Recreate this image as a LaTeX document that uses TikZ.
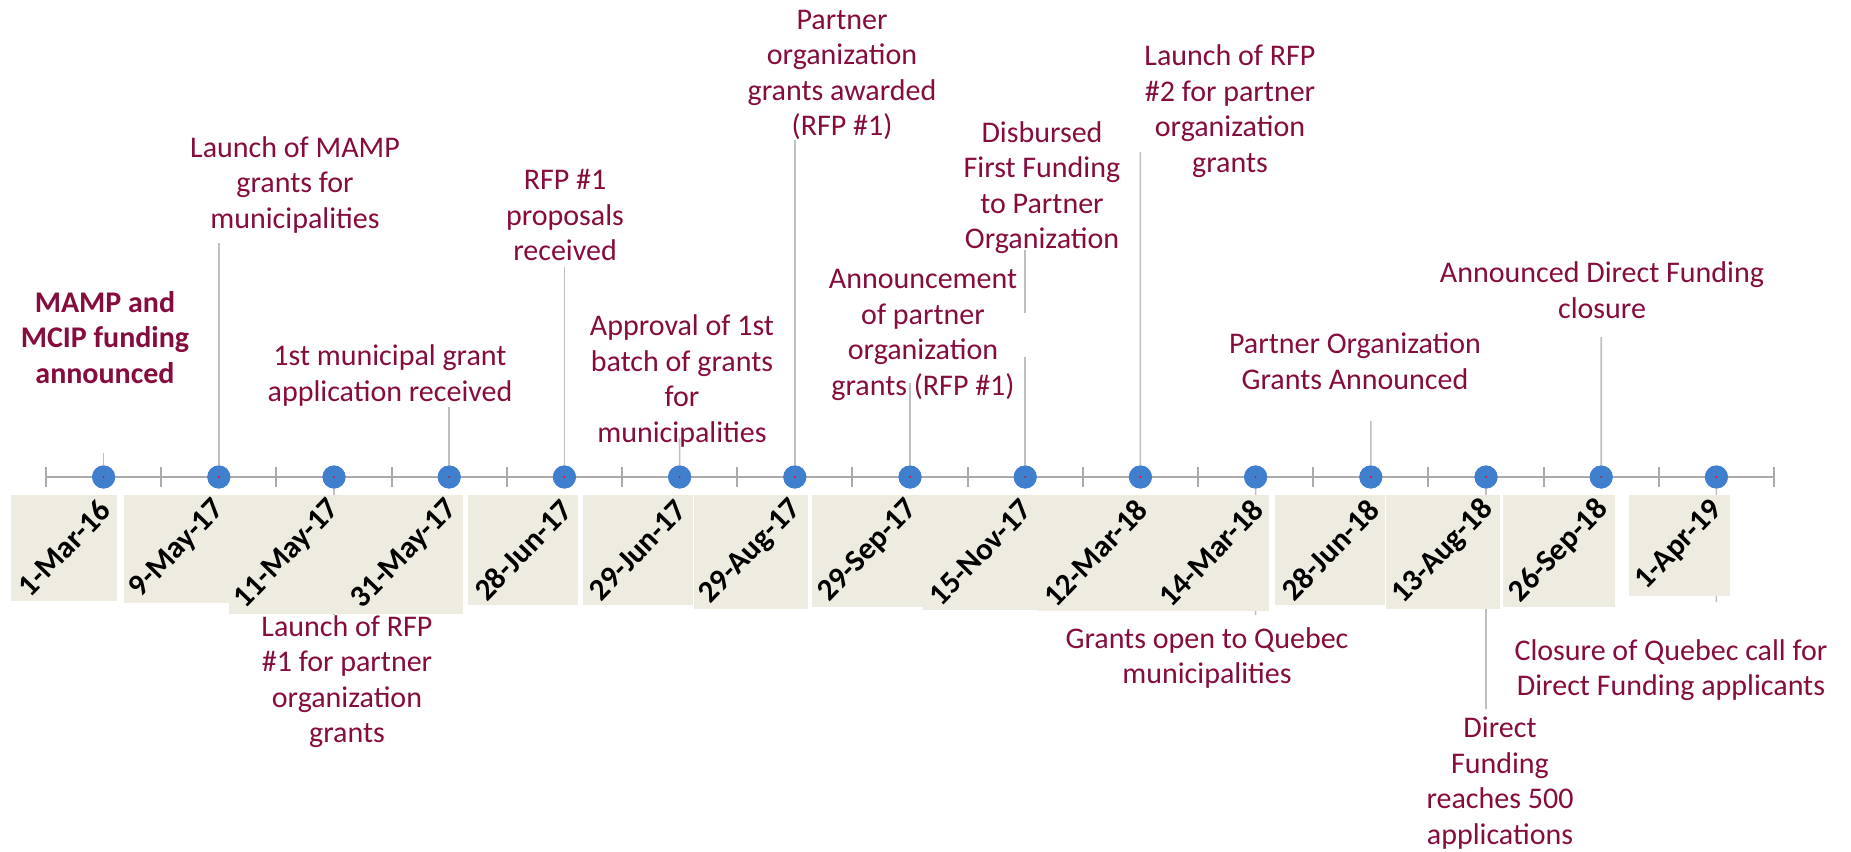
\documentclass[tikz,border=0pt]{standalone}
\usepackage{fontspec}
\setmainfont{Carlito}
\definecolor{evt}{RGB}{134,12,62}
\definecolor{lead}{RGB}{191,191,191}
\definecolor{axisc}{RGB}{170,170,170}
\definecolor{dotc}{RGB}{63,127,206}
\definecolor{boxc}{RGB}{238,236,225}
\tikzset{
  evlabel/.style={text=evt, align=center, inner sep=0pt, font=\fontsize{15}{17.75}\selectfont},
  evbold/.style={evlabel, font=\bfseries\fontsize{15}{17.75}\selectfont},
  datelabel/.style={rotate=46, inner sep=0pt, font=\bfseries\fontsize{15.5}{17}\selectfont},
  leader/.style={draw=lead, line width=0.8pt},
  axisline/.style={draw=axisc, line width=1pt},
  dotmark/.style={circle, fill=dotc, minimum size=11.5pt, inner sep=0pt},
  datebox/.style={fill=boxc},
}
\begin{document}
\begin{tikzpicture}[x=0.5pt,y=-0.5pt]
\useasboundingbox (0,0) rectangle (1851,851);
% axis
\coordinate (a0) at (46,477);
\coordinate (a1) at (1774,477);
\draw[axisline] (a0) -- (a1);
\foreach \k in {0,...,15} {
  \draw[axisline] (46+115.2*\k,467) -- (46+115.2*\k,487);
}
% dots (as named nodes)
\foreach \k in {0,...,14} {
  \node[dotmark] (d\k) at (103.6+115.2*\k,477) {};
}
% leader end points
\coordinate (l0) at (103.6,453);
\coordinate (l1) at (218.8,243);
\coordinate (l2) at (334,615);
\coordinate (l3) at (449.2,407);
\coordinate (l4) at (564.4,267);
\coordinate (l5) at (679.6,438);
\coordinate (l6) at (794.8,140);
\coordinate (l7) at (910,383);
\coordinate (l8) at (1025.2,250);
\coordinate (l8a) at (1025.2,313);
\coordinate (l8b) at (1025.2,357);
\coordinate (l9) at (1140.4,152);
\coordinate (l10) at (1255.6,615);
\coordinate (l11) at (1370.8,421);
\coordinate (l12) at (1486,709);
\coordinate (l13) at (1601.2,337);
\coordinate (l14) at (1716.4,602);
\foreach \k in {0,1,2,3,4,5,6,7,9,10,11,12,13,14} {
  \draw[leader] (l\k) -- (d\k.center);
}
\draw[leader] (l8) -- (l8a);
\draw[leader] (l8b) -- (d8.center);
% date boxes
\fill[datebox] (11,495) rectangle (117,601);
\fill[datebox] (124,495) rectangle (231,603);
\fill[datebox] (229,495) rectangle (346,614);
\fill[datebox] (346,495) rectangle (463,614);
\fill[datebox] (468,495) rectangle (578,605);
\fill[datebox] (583,495) rectangle (693,605);
\fill[datebox] (694,495) rectangle (808,609);
\fill[datebox] (812,495) rectangle (925,607);
\fill[datebox] (923,495) rectangle (1038,610);
\fill[datebox] (1038,495) rectangle (1153,611);
\fill[datebox] (1153,495) rectangle (1269,611);
\fill[datebox] (1275,495) rectangle (1385,605);
\fill[datebox] (1386,495) rectangle (1500,609);
\fill[datebox] (1503,495) rectangle (1615,607);
\fill[datebox] (1629,495) rectangle (1730,596);
% redraw dots on top
\foreach \k in {0,...,14} {
  \fill[dotc] (d\k.center) circle (5.75pt);
  \fill[red] (d\k.center) circle (0.5pt);
}
% date labels
\node[datelabel] (t0) at (64,548) {1-Mar-16};
\node[datelabel] (t1) at (177.5,549) {9-May-17};
\node[datelabel] (t2) at (287.5,554.5) {11-May-17};
\node[datelabel] (t3) at (404.5,554.5) {31-May-17};
\node[datelabel] (t4) at (523,550) {28-Jun-17};
\node[datelabel] (t5) at (638,550) {29-Jun-17};
\node[datelabel] (t6) at (751,552) {29-Aug-17};
\node[datelabel] (t7) at (868.5,551) {29-Sep-17};
\node[datelabel] (t8) at (980.5,552.5) {15-Nov-17};
\node[datelabel] (t9) at (1095.5,553) {12-Mar-18};
\node[datelabel] (t10) at (1211,553) {14-Mar-18};
\node[datelabel] (t11) at (1330,550) {28-Jun-18};
\node[datelabel] (t12) at (1443,552) {13-Aug-18};
\node[datelabel] (t13) at (1559,551) {26-Sep-18};
\node[datelabel] (t14) at (1679.5,545.5) {1-Apr-19};
% event labels
\node[evbold] (e0) at (105,337.5) {MAMP and\\MCIP funding\\announced};
\node[evlabel] (e1) at (295,184.5) {Launch of MAMP\\grants for\\municipalities};
\node[evlabel] (e2) at (347,681.5) {Launch of RFP\\\#1 for partner\\organization\\grants};
\node[evlabel] (e3) at (390,375.5) {1st municipal grant\\application received};
\node[evlabel] (e4) at (565,215) {RFP \#1\\proposals\\received};
\node[evlabel] (e5) at (682,381) {Approval of 1st\\batch of grants\\for\\municipalities};
\node[evlabel] (e6) at (842,75) {Partner\\organization\\grants awarded\\(RFP \#1)};
\node[evlabel] (e7) at (923,335) {Announcement\\of partner\\organization\\grants (RFP \#1)};
\node[evlabel] (e8) at (1042,187.5) {Disbursed\\First Funding\\to Partner\\Organization};
\node[evlabel] (e9) at (1230,111) {Launch of RFP\\\#2 for partner\\organization\\grants};
\node[evlabel] (e10) at (1207,658) {Grants open to Quebec\\municipalities};
\node[evlabel] (e11) at (1355,361) {Partner Organization\\Grants Announced};
\node[evlabel] (e12) at (1500,783) {Direct\\Funding\\reaches 500\\applications};
\node[evlabel] (e13) at (1602,290) {Announced Direct Funding\\closure};
\node[evlabel] (e14) at (1671,670) {Closure of Quebec call for\\Direct Funding applicants};
\end{tikzpicture}
\end{document}
